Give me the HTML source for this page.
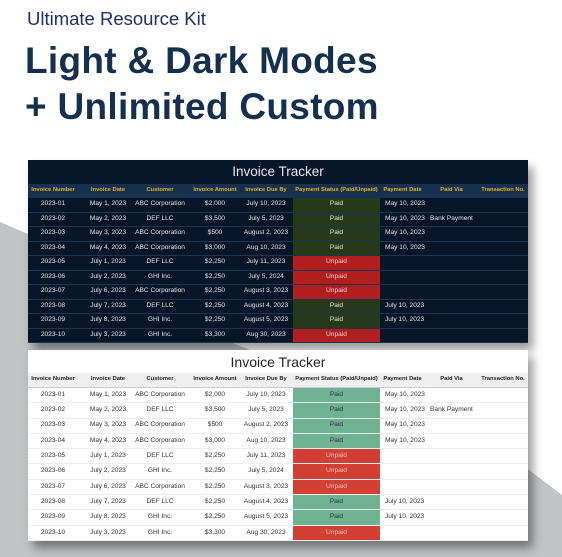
<!DOCTYPE html>
<html><head><meta charset="utf-8"><style>
*{margin:0;padding:0;box-sizing:border-box}
body{width:562px;height:557px;overflow:hidden;background:#fff;position:relative;font-family:"Liberation Sans",sans-serif}
.bg{position:absolute;left:0;top:0}
.h1{position:absolute;left:27px;top:8px;font-size:18.5px;color:#1d3166;white-space:nowrap}
.h2{position:absolute;left:25px;font-size:37px;font-weight:bold;color:#15304f;white-space:nowrap;letter-spacing:0.3px}
.tb{position:absolute;left:28px;width:500px;box-shadow:5px 7px 9px rgba(0,0,0,.4)}
.title{text-align:center;white-space:nowrap}
.r{display:flex;font-size:6.6px;align-items:stretch}
.r>div{display:flex;justify-content:center;white-space:nowrap;align-items:center;line-height:1}
.c1{width:50px}.c2{width:60px}.c3{width:44px}.c4{width:66px}.c5{width:36px}.sp{width:9px}.c6{width:87px}.c7{width:45px;justify-content:flex-start!important;padding-left:5px}.c8{width:53px;justify-content:flex-start!important;padding-left:5px}.c9{width:50px}
.hd .c7{justify-content:center!important;padding-left:0}.hd .c8{justify-content:center!important;padding-left:0}
#d{top:160px;background:#061628;color:#dfe3ea}
#d .title{height:24px;line-height:24px;font-size:13.5px;color:#e6e8ec}
#d .hd{height:14px;background:#17304f;color:#e0b41a;font-weight:bold;font-size:5.8px}
#d .row{height:14.5px;border-bottom:1px solid #1b3452}
#d .p{background:#263a1b;color:#e8e8d8}
#d .u{background:#b01e1e;color:#f2d0d0}
#l{top:350px;background:#fff;color:#333}
#l .title{height:23px;line-height:24px;font-size:14px;color:#222}
#l .hd{height:15px;background:#efefef;border-bottom:1px solid #ccc;color:#222;font-weight:bold;font-size:5.8px}
#l .row{height:15.3px;border-bottom:1px solid #eee}
#l .p{background:#70b394;color:#234}
#l .u{background:#d23f33;color:#f5c2bc}
</style></head><body>
<svg class="bg" width="562" height="557"><polygon points="0,222 28,234 230,342 255,352 525,467 562,495 562,557 0,557" fill="#c2c3c5"/></svg>
<div class="h1">Ultimate Resource Kit</div>
<div class="h2" style="top:40px">Light &amp; Dark Modes</div>
<div class="h2" style="top:86px">+ Unlimited Custom</div>

<div class="tb" id="d">
<div class="title">Invoice Tracker</div>
<div class="r hd"><div class="c1">Invoice Number</div><div class="c2">Invoice Date</div><div class="c3">Customer</div><div class="c4">Invoice Amount</div><div class="c5">Invoice Due By</div><div class="sp"></div><div class="c6">Payment Status (Paid/Unpaid)</div><div class="c7">Payment Date</div><div class="c8">Paid Via</div><div class="c9">Transaction No.</div></div>
<div class="r row"><div class="c1">2023-01</div><div class="c2">May 1, 2023</div><div class="c3">ABC Corporation</div><div class="c4">$2,000</div><div class="c5">July 10, 2023</div><div class="sp"></div><div class="c6 p">Paid</div><div class="c7">May 10, 2023</div><div class="c8"></div><div class="c9"></div></div>
<div class="r row"><div class="c1">2023-02</div><div class="c2">May 2, 2023</div><div class="c3">DEF LLC</div><div class="c4">$3,500</div><div class="c5">July 5, 2023</div><div class="sp"></div><div class="c6 p">Paid</div><div class="c7">May 10, 2023</div><div class="c8">Bank Payment</div><div class="c9"></div></div>
<div class="r row"><div class="c1">2023-03</div><div class="c2">May 3, 2023</div><div class="c3">ABC Corporation</div><div class="c4">$500</div><div class="c5">August 2, 2023</div><div class="sp"></div><div class="c6 p">Paid</div><div class="c7">May 10, 2023</div><div class="c8"></div><div class="c9"></div></div>
<div class="r row"><div class="c1">2023-04</div><div class="c2">May 4, 2023</div><div class="c3">ABC Corporation</div><div class="c4">$3,000</div><div class="c5">Aug 10, 2023</div><div class="sp"></div><div class="c6 p">Paid</div><div class="c7">May 10, 2023</div><div class="c8"></div><div class="c9"></div></div>
<div class="r row"><div class="c1">2023-05</div><div class="c2">July 1, 2023</div><div class="c3">DEF LLC</div><div class="c4">$2,250</div><div class="c5">July 11, 2023</div><div class="sp"></div><div class="c6 u">Unpaid</div><div class="c7"></div><div class="c8"></div><div class="c9"></div></div>
<div class="r row"><div class="c1">2023-06</div><div class="c2">July 2, 2023</div><div class="c3">GHI Inc.</div><div class="c4">$2,250</div><div class="c5">July 5, 2024</div><div class="sp"></div><div class="c6 u">Unpaid</div><div class="c7"></div><div class="c8"></div><div class="c9"></div></div>
<div class="r row"><div class="c1">2023-07</div><div class="c2">July 6, 2023</div><div class="c3">ABC Corporation</div><div class="c4">$2,250</div><div class="c5">August 3, 2023</div><div class="sp"></div><div class="c6 u">Unpaid</div><div class="c7"></div><div class="c8"></div><div class="c9"></div></div>
<div class="r row"><div class="c1">2023-08</div><div class="c2">July 7, 2023</div><div class="c3">DEF LLC</div><div class="c4">$2,250</div><div class="c5">August 4, 2023</div><div class="sp"></div><div class="c6 p">Paid</div><div class="c7">July 10, 2023</div><div class="c8"></div><div class="c9"></div></div>
<div class="r row"><div class="c1">2023-09</div><div class="c2">July 8, 2023</div><div class="c3">GHI Inc.</div><div class="c4">$2,250</div><div class="c5">August 5, 2023</div><div class="sp"></div><div class="c6 p">Paid</div><div class="c7">July 10, 2023</div><div class="c8"></div><div class="c9"></div></div>
<div class="r row"><div class="c1">2023-10</div><div class="c2">July 3, 2023</div><div class="c3">GHI Inc.</div><div class="c4">$3,300</div><div class="c5">Aug 30, 2023</div><div class="sp"></div><div class="c6 u">Unpaid</div><div class="c7"></div><div class="c8"></div><div class="c9"></div></div>
</div>

<div class="tb" id="l">
<div class="title">Invoice Tracker</div>
<div class="r hd"><div class="c1">Invoice Number</div><div class="c2">Invoice Date</div><div class="c3">Customer</div><div class="c4">Invoice Amount</div><div class="c5">Invoice Due By</div><div class="sp"></div><div class="c6">Payment Status (Paid/Unpaid)</div><div class="c7">Payment Date</div><div class="c8">Paid Via</div><div class="c9">Transaction No.</div></div>
<div class="r row"><div class="c1">2023-01</div><div class="c2">May 1, 2023</div><div class="c3">ABC Corporation</div><div class="c4">$2,000</div><div class="c5">July 10, 2023</div><div class="sp"></div><div class="c6 p">Paid</div><div class="c7">May 10, 2023</div><div class="c8"></div><div class="c9"></div></div>
<div class="r row"><div class="c1">2023-02</div><div class="c2">May 2, 2023</div><div class="c3">DEF LLC</div><div class="c4">$3,500</div><div class="c5">July 5, 2023</div><div class="sp"></div><div class="c6 p">Paid</div><div class="c7">May 10, 2023</div><div class="c8">Bank Payment</div><div class="c9"></div></div>
<div class="r row"><div class="c1">2023-03</div><div class="c2">May 3, 2023</div><div class="c3">ABC Corporation</div><div class="c4">$500</div><div class="c5">August 2, 2023</div><div class="sp"></div><div class="c6 p">Paid</div><div class="c7">May 10, 2023</div><div class="c8"></div><div class="c9"></div></div>
<div class="r row"><div class="c1">2023-04</div><div class="c2">May 4, 2023</div><div class="c3">ABC Corporation</div><div class="c4">$3,000</div><div class="c5">Aug 10, 2023</div><div class="sp"></div><div class="c6 p">Paid</div><div class="c7">May 10, 2023</div><div class="c8"></div><div class="c9"></div></div>
<div class="r row"><div class="c1">2023-05</div><div class="c2">July 1, 2023</div><div class="c3">DEF LLC</div><div class="c4">$2,250</div><div class="c5">July 11, 2023</div><div class="sp"></div><div class="c6 u">Unpaid</div><div class="c7"></div><div class="c8"></div><div class="c9"></div></div>
<div class="r row"><div class="c1">2023-06</div><div class="c2">July 2, 2023</div><div class="c3">GHI Inc.</div><div class="c4">$2,250</div><div class="c5">July 5, 2024</div><div class="sp"></div><div class="c6 u">Unpaid</div><div class="c7"></div><div class="c8"></div><div class="c9"></div></div>
<div class="r row"><div class="c1">2023-07</div><div class="c2">July 6, 2023</div><div class="c3">ABC Corporation</div><div class="c4">$2,250</div><div class="c5">August 3, 2023</div><div class="sp"></div><div class="c6 u">Unpaid</div><div class="c7"></div><div class="c8"></div><div class="c9"></div></div>
<div class="r row"><div class="c1">2023-08</div><div class="c2">July 7, 2023</div><div class="c3">DEF LLC</div><div class="c4">$2,250</div><div class="c5">August 4, 2023</div><div class="sp"></div><div class="c6 p">Paid</div><div class="c7">July 10, 2023</div><div class="c8"></div><div class="c9"></div></div>
<div class="r row"><div class="c1">2023-09</div><div class="c2">July 8, 2023</div><div class="c3">GHI Inc.</div><div class="c4">$2,250</div><div class="c5">August 5, 2023</div><div class="sp"></div><div class="c6 p">Paid</div><div class="c7">July 10, 2023</div><div class="c8"></div><div class="c9"></div></div>
<div class="r row"><div class="c1">2023-10</div><div class="c2">July 3, 2023</div><div class="c3">GHI Inc.</div><div class="c4">$3,300</div><div class="c5">Aug 30, 2023</div><div class="sp"></div><div class="c6 u">Unpaid</div><div class="c7"></div><div class="c8"></div><div class="c9"></div></div>
</div>
</body></html>
